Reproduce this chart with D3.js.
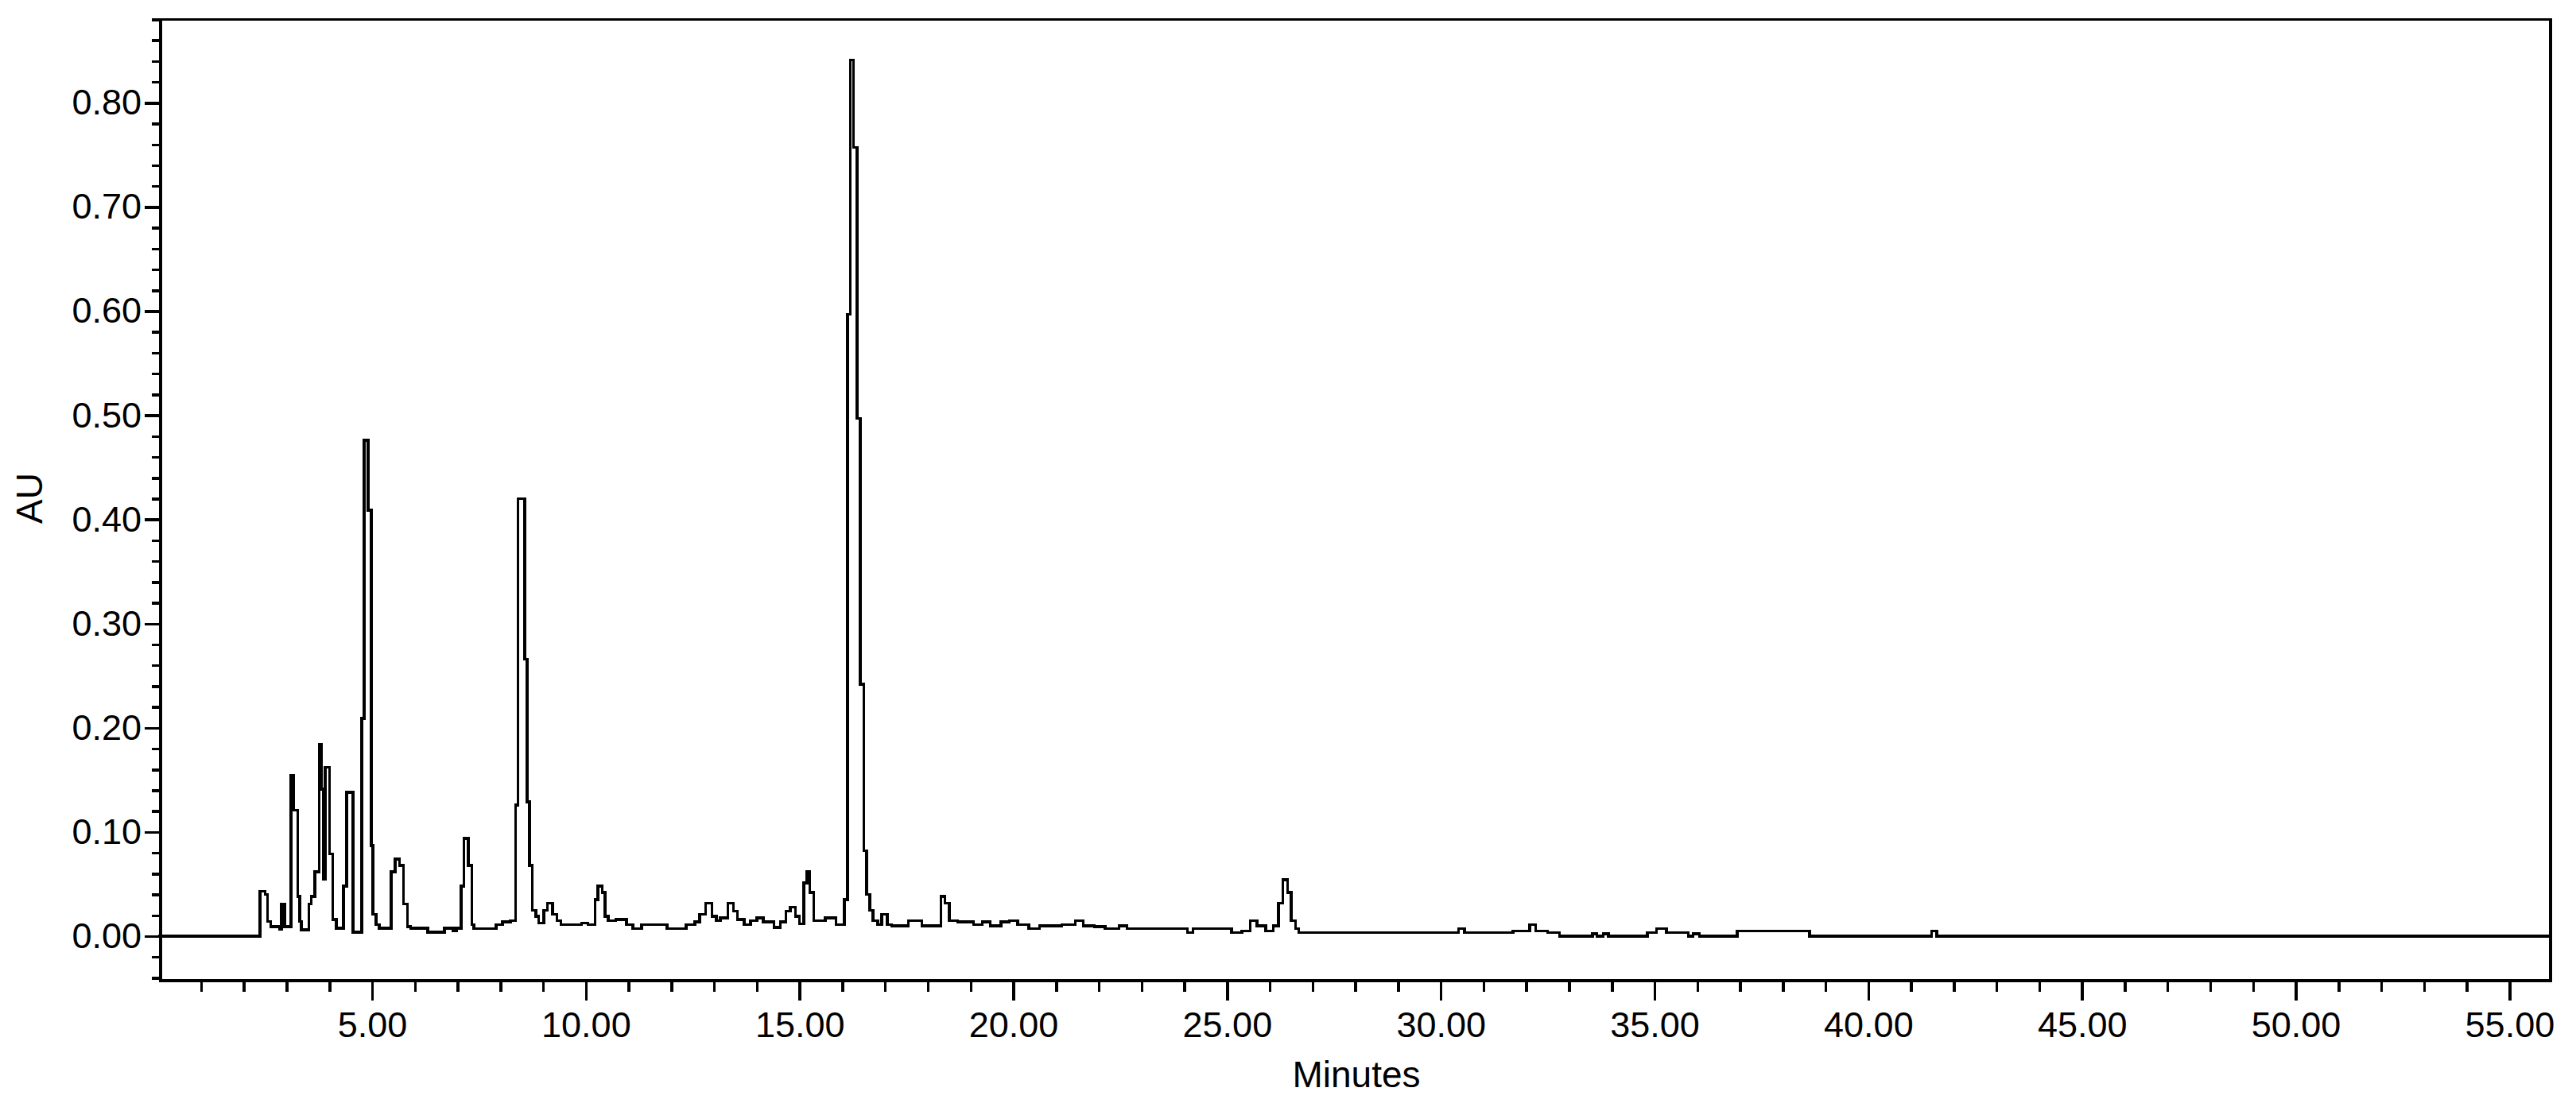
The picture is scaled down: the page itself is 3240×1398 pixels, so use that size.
<!DOCTYPE html>
<html>
<head>
<meta charset="utf-8">
<script src="https://cdn.jsdelivr.net/npm/d3@7"></script>
<style>
  html, body { margin: 0; padding: 0; background: #fff; }
  svg { display: block; }
  text { font-family: "Liberation Sans", Arial, sans-serif; fill: #000; }
</style>
</head>
<body>
<div id="chart"></div>
<script>
'use strict'

const width = 3240
const height = 1398
const margin = { top: 24.5, right: 32, bottom: 164, left: 202 }

// retention time (min) where each step of the trace starts
const minutes = [
  0.00, 2.38, 2.50, 2.55, 2.63, 2.84, 2.88, 2.95, 3.10, 3.16,
  3.26, 3.31, 3.34, 3.52, 3.58, 3.66, 3.76, 3.81, 3.86, 3.90,
  4.00, 4.08, 4.16, 4.33, 4.40, 4.55, 4.76, 4.81, 4.91, 4.98,
  5.02, 5.09, 5.17, 5.45, 5.54, 5.64, 5.73, 5.83, 5.90, 6.30,
  6.69, 6.90, 6.97, 7.08, 7.15, 7.25, 7.33, 7.38, 7.90, 8.05,
  8.24, 8.36, 8.41, 8.57, 8.63, 8.68, 8.75, 8.83, 8.90, 9.02,
  9.10, 9.22, 9.32, 9.42, 9.90, 10.05, 10.22, 10.28, 10.38, 10.45,
  10.52, 10.70, 10.95, 11.10, 11.30, 11.90, 12.35, 12.55, 12.66, 12.80,
  12.95, 13.05, 13.15, 13.32, 13.45, 13.55, 13.70, 13.85, 14.00, 14.15,
  14.40, 14.55, 14.68, 14.78, 14.90, 15.00, 15.10, 15.17, 15.24, 15.33,
  15.60, 15.85, 16.05, 16.12, 16.19, 16.26, 16.34, 16.42, 16.50, 16.57,
  16.64, 16.72, 16.83, 16.92, 17.05, 17.15, 17.54, 17.86, 18.31, 18.40,
  18.50, 18.70, 19.07, 19.27, 19.46, 19.71, 19.91, 20.10, 20.36, 20.61,
  20.87, 21.13, 21.45, 21.64, 21.90, 22.15, 22.47, 22.66, 24.07, 24.20,
  25.10, 25.35, 25.54, 25.70, 25.90, 26.08, 26.20, 26.30, 26.42, 26.50,
  26.60, 26.68, 30.41, 30.55, 31.69, 32.08, 32.22, 32.50, 32.78, 33.55,
  33.65, 33.80, 33.92, 34.83, 35.05, 35.28, 35.79, 35.90, 36.05, 36.93,
  38.63, 41.48, 41.60, 55.96
]

// absorbance (AU) held from each retention time to the next one
const absorbance = [
  0.000, 0.043, 0.040, 0.014, 0.009, 0.007, 0.031, 0.009, 0.154, 0.121,
  0.038, 0.014, 0.006, 0.031, 0.038, 0.062, 0.184, 0.141, 0.055, 0.162,
  0.079, 0.016, 0.0075, 0.048, 0.138, 0.004, 0.209, 0.476, 0.409, 0.087,
  0.021, 0.011, 0.0075, 0.062, 0.074, 0.068, 0.031, 0.009, 0.0075, 0.004,
  0.0075, 0.005, 0.0075, 0.048, 0.094, 0.068, 0.011, 0.0074, 0.011, 0.0137,
  0.015, 0.126, 0.420, 0.266, 0.129, 0.068, 0.025, 0.019, 0.0125, 0.025,
  0.0315, 0.021, 0.015, 0.011, 0.0125, 0.011, 0.035, 0.048, 0.042, 0.019,
  0.015, 0.016, 0.011, 0.0074, 0.011, 0.0074, 0.011, 0.0137, 0.021, 0.0315,
  0.019, 0.015, 0.0175, 0.0315, 0.024, 0.016, 0.011, 0.015, 0.0175, 0.0137,
  0.0086, 0.0137, 0.024, 0.028, 0.019, 0.012, 0.051, 0.062, 0.042, 0.015,
  0.0175, 0.011, 0.035, 0.597, 0.841, 0.757, 0.497, 0.242, 0.082, 0.040,
  0.025, 0.015, 0.011, 0.021, 0.011, 0.010, 0.015, 0.010, 0.038, 0.0315,
  0.015, 0.0137, 0.011, 0.0137, 0.010, 0.0137, 0.015, 0.011, 0.0074, 0.010,
  0.010, 0.011, 0.015, 0.010, 0.009, 0.0074, 0.010, 0.0074, 0.0036, 0.0074,
  0.0036, 0.0049, 0.015, 0.010, 0.0049, 0.010, 0.0315, 0.054, 0.042, 0.015,
  0.0074, 0.0036, 0.0074, 0.0036, 0.0049, 0.011, 0.0049, 0.0036, 0.000, 0.0025,
  0.000, 0.0025, 0.000, 0.0036, 0.0074, 0.0036, 0.000, 0.0025, 0.000, 0.005,
  0.000, 0.005, 0.000, 0.000
]

const xTickLabels = [5, 10, 15, 20, 25, 30, 35, 40, 45, 50, 55]
const yTickLabels = [0.00, 0.10, 0.20, 0.30, 0.40, 0.50, 0.60, 0.70, 0.80]

const data = minutes.map((t, i) => ({ t: t, au: absorbance[i] }))

const x = d3.scaleLinear()
  .domain([0.052, 55.96])
  .range([margin.left, width - margin.right])

const y = d3.scaleLinear()
  .domain([-0.0427, 0.88])
  .range([height - margin.bottom, margin.top])

const svg = d3.select('#chart').append('svg')
  .attr('width', width)
  .attr('height', height)

svg.append('rect')
  .attr('width', width)
  .attr('height', height)
  .attr('fill', '#fff')

const fontSize = 45

// minor ticks
svg.append('g')
  .attr('transform', 'translate(0,' + (height - margin.bottom) + ')')
  .call(d3.axisBottom(x).tickValues(d3.range(1, 56)).tickSize(14).tickFormat(''))
  .call(g => g.select('.domain').remove())

svg.append('g')
  .attr('transform', 'translate(' + margin.left + ',0)')
  .call(d3.axisLeft(y).tickValues(d3.range(-2, 45).map(d => d * 0.02)).tickSize(11).tickFormat(''))
  .call(g => g.select('.domain').remove())

// major ticks with labels
const xAxis = svg.append('g')
  .attr('transform', 'translate(0,' + (height - margin.bottom) + ')')
  .call(d3.axisBottom(x).tickValues(xTickLabels).tickSize(25).tickPadding(14)
    .tickFormat(d3.format('.2f')))
  .call(g => g.select('.domain').remove())

const yAxis = svg.append('g')
  .attr('transform', 'translate(' + margin.left + ',0)')
  .call(d3.axisLeft(y).tickValues(yTickLabels).tickSize(20).tickPadding(4)
    .tickFormat(d3.format('.2f')))
  .call(g => g.select('.domain').remove())

svg.selectAll('.tick line')
  .attr('stroke', '#000')
  .attr('stroke-width', 3.5)
  .attr('shape-rendering', 'crispEdges')

xAxis.selectAll('text')
  .attr('font-size', fontSize)
  .attr('font-family', '"Liberation Sans", Arial, sans-serif')
  .attr('fill', '#000')

yAxis.selectAll('text')
  .attr('font-size', fontSize)
  .attr('font-family', '"Liberation Sans", Arial, sans-serif')
  .attr('fill', '#000')

// the trace
const line = d3.line()
  .x(d => x(d.t))
  .y(d => y(d.au))
  .curve(d3.curveStepAfter)

svg.append('path')
  .datum(data)
  .attr('fill', 'none')
  .attr('stroke', '#000')
  .attr('stroke-width', 3.5)
  .attr('shape-rendering', 'crispEdges')
  .attr('d', line)

// frame
svg.append('rect')
  .attr('x', margin.left)
  .attr('y', margin.top)
  .attr('width', width - margin.right - margin.left)
  .attr('height', height - margin.bottom - margin.top)
  .attr('fill', 'none')
  .attr('stroke', '#000')
  .attr('stroke-width', 3.5)
  .attr('shape-rendering', 'crispEdges')

svg.append('text')
  .attr('x', 1706)
  .attr('y', 1368)
  .attr('text-anchor', 'middle')
  .attr('font-size', 46)
  .text('Minutes')

svg.append('text')
  .attr('transform', 'translate(53,627) rotate(-90)')
  .attr('text-anchor', 'middle')
  .attr('font-size', 46)
  .text('AU')
</script>
</body>
</html>
